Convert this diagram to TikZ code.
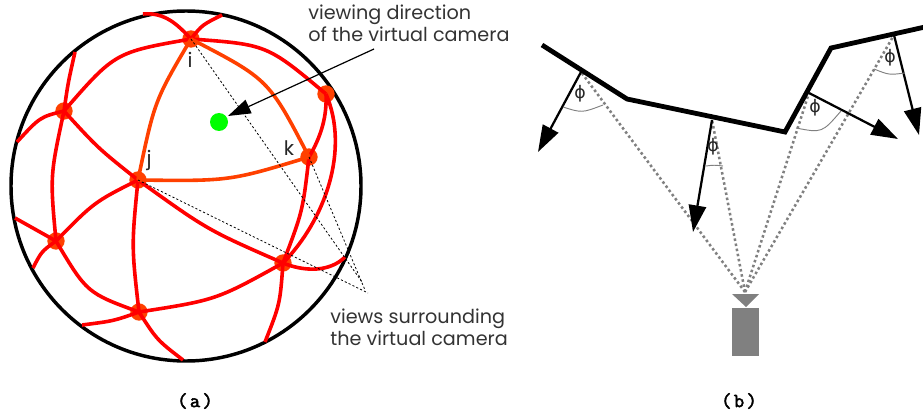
\documentclass[tikz,border=0pt]{standalone}
\usepackage{fontspec}
\usetikzlibrary{arrows.meta}
\setmainfont{Liberation Sans}
\newfontfamily\handfont{Poppins}
\newfontfamily\phifont{DejaVu Sans}
\newfontfamily\capfont[LetterSpace=12,FakeBold=2.5]{Latin Modern Mono}
\definecolor{redline}{RGB}{255,0,0}
\definecolor{orangeline}{RGB}{255,64,0}
\definecolor{greendot}{RGB}{0,255,0}
\tikzset{
  view/.style={circle,fill=orangeline,minimum size=13pt,inner sep=0pt},
  r/.style={draw=redline,line width=2.7pt},
  o/.style={draw=orangeline,line width=2.7pt},
  guide/.style={draw=black,line width=0.6pt,dash pattern=on 1.6pt off 1.6pt},
  hand/.style={font=\handfont\fontsize{14.4}{16.5}\selectfont,text=black!80,align=left,inner sep=0pt},
  letter/.style={font=\handfont\fontsize{15}{15}\selectfont,text=black!85,inner sep=0pt},
  capt/.style={font=\capfont\fontsize{15}{16}\selectfont,inner sep=0pt},
  surface/.style={draw=black,line width=3.6pt,line join=miter},
  normal/.style={draw=black,line width=1.7pt,-{Triangle[length=20pt,width=13pt]}},
  ray/.style={draw=black!50,line width=1.9pt,dash pattern=on 1.9pt off 2pt},
  anglearc/.style={draw=black!50,line width=0.7pt},
  philabel/.style={font=\phifont\fontsize{13}{13}\selectfont,text=black!85,inner sep=0pt}
}
\begin{document}
\begin{tikzpicture}[x=0.75pt,y=-0.75pt]
\useasboundingbox (0,0) rectangle (923,417);
% panel (a)
\node[circle,draw=black,line width=2.6pt,minimum size=262.5pt,inner sep=0pt] (sphere) at (186,186) {};
\node[view] (i) at (191,39) {};
\node[view] (tr) at (326,94) {};
\node[view] (k) at (309,157) {};
\node[view] (j) at (138,180) {};
\node[view] (lt) at (64,111) {};
\node[view] (ll) at (56,241) {};
\node[view] (b) at (139,312) {};
\node[view] (lr) at (283,263) {};
\node[circle,fill=greendot,minimum size=13.5pt,inner sep=0pt] (eye) at (219,122) {};
\coordinate (e1) at (143,14);
\coordinate (e2) at (222,15);
\coordinate (e3) at (75,52);
\coordinate (e4) at (17,142);
\coordinate (e5) at (15,218);
\coordinate (e6) at (33,268);
\coordinate (e7) at (82,325);
\coordinate (e8) at (183,360);
\coordinate (e9) at (265,342);
\coordinate (e10) at (345,257);
\coordinate (apex) at (368,293);
\coordinate (apexa) at (362,282);
\coordinate (apexb) at (365,290);
\coordinate (lblstart) at (374,49);
\coordinate (lblend) at (228,116);
\draw[r] (i.center) .. controls (178,25) and (165,12) .. (e1);
\draw[r] (i.center) .. controls (202,25) .. (e2);
\draw[r] (i.center) .. controls (267,44.5) .. (tr.center);
\draw[r] (i.center) .. controls (115,52.3) .. (lt.center);
\draw[r] (lt.center) .. controls (68,83) .. (e3);
\draw[r] (lt.center) .. controls (40,117) .. (e4);
\draw[r] (lt.center) .. controls (50,176) .. (ll.center);
\draw[r] (lt.center) .. controls (98.3,148.5) .. (j.center);
\draw[r] (j.center) .. controls (94.3,202) .. (ll.center);
\draw[r] (j.center) .. controls (131.5,246) .. (b.center);
\draw[r] (j.center) .. controls (207.5,230) .. (lr.center);
\draw[r] (ll.center) -- (e5);
\draw[r] (ll.center) .. controls (41.5,251.5) .. (e6);
\draw[r] (ll.center) .. controls (87,293) .. (b.center);
\draw[r] (b.center) .. controls (113.5,321) .. (e7);
\draw[r] (b.center) .. controls (157,340) .. (e8);
\draw[r] (b.center) .. controls (216.3,300) .. (lr.center);
\draw[r] (lr.center) .. controls (280,304) .. (e9);
\draw[r] (lr.center) .. controls (305,272) and (330,272) .. (e10);
\draw[r] (lr.center) .. controls (302.7,211.3) .. (k.center);
\draw[r] (lr.center) .. controls (325,220) and (350,150) .. (tr.center);
\draw[r] (k.center) .. controls (322,135) and (327,115) .. (tr.center);
\draw[o] (i.center) .. controls (154.5,100.8) .. (j.center);
\draw[o] (i.center) .. controls (268.7,79.3) .. (k.center);
\draw[o] (j.center) .. controls (229.5,181.2) .. (k.center);
\draw[guide] (i.center) -- (apexa);
\draw[guide] (k.center) -- (apexb);
\draw[guide] (j.center) -- (apex);
\draw[black,line width=0.9pt,-{Triangle[length=17pt,width=11pt]}] (lblstart) -- (lblend);
\node[letter,anchor=center] (li) at (190,60) {i};
\node[letter,anchor=center] (lj) at (149,160) {j};
\node[letter,anchor=center] (lk) at (289,148) {k};
\node[hand,anchor=west] (t1) at (308,23) {viewing direction\\of the virtual camera};
\node[hand,anchor=west] (t2) at (330,327) {views surrounding\\the virtual camera};
\node[capt] (ca) at (195,401) {(a)};
% panel (b)
\coordinate (s0) at (542,45);
\coordinate (s1) at (627,99);
\coordinate (s2) at (785,132);
\coordinate (s3) at (831,48);
\coordinate (s4) at (925,27);
\coordinate (p1) at (581,72);
\coordinate (p2) at (712,120);
\coordinate (p3) at (809,93);
\coordinate (p4) at (894,35);
\coordinate (n1) at (538,152);
\coordinate (n2) at (693,232);
\coordinate (n3) at (898,139);
\coordinate (n4) at (919,135);
\coordinate (cam) at (745,292);
\draw[ray] (cam) -- (p1);
\draw[ray] (cam) -- (p2);
\draw[ray] (cam) -- (p3);
\draw[ray] (cam) -- (p4);
\draw[surface] (s0) -- (s1) -- (s2) -- (s3) -- (s4);
\draw[normal] (p1) -- (n1);
\draw[normal] (p2) -- (n2);
\draw[normal] (p3) -- (n3);
\draw[normal] (p4) -- (n4);
\draw[anglearc] (563,107) .. controls (582,113) .. (603,105);
\draw[anglearc] (706,166) .. controls (714,165) .. (723,166);
\draw[anglearc] (796,128) .. controls (822,133) .. (841,111);
\draw[anglearc] (874,69) .. controls (889,75) .. (905,73);
\node[philabel] (f1) at (580,94) {ϕ};
\node[philabel] (f2) at (713,147) {ϕ};
\node[philabel] (f3) at (815,108) {ϕ};
\node[philabel] (f4) at (890,58) {ϕ};
\fill[black!50] (732,294) -- (759,294) -- (746,307) -- cycle;
\node[fill=black!50,minimum width=20.2pt,minimum height=36pt,inner sep=0pt] (body) at (745.5,332) {};
\node[capt] (cb) at (739,401) {(b)};
\end{tikzpicture}
\end{document}
